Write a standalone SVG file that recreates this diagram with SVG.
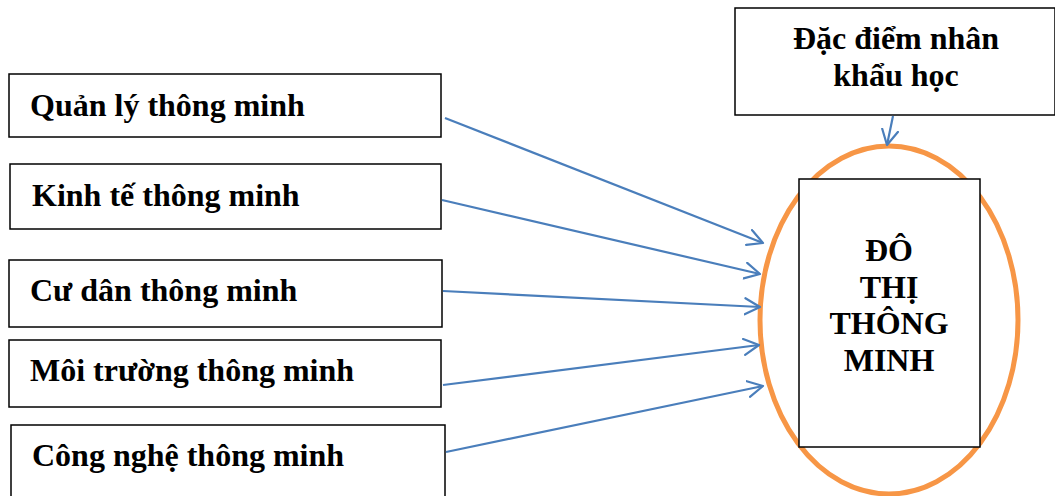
<svg xmlns="http://www.w3.org/2000/svg" width="1055" height="496" viewBox="0 0 1055 496">
<style>
.box{fill:#fff;stroke:#000;stroke-width:1.5}
.t{font-family:"Liberation Serif","Times New Roman",serif;font-weight:bold;font-size:32px;fill:#000}
.c{text-anchor:middle}
.conn{stroke:#4A7EBB;stroke-width:2.2;fill:none;marker-end:url(#ah)}
</style>
<defs>
<marker id="ah" markerUnits="userSpaceOnUse" markerWidth="24" markerHeight="24" refX="16" refY="9" orient="auto">
<path d="M1,1 L16,9 L1,17" fill="none" stroke="#4A7EBB" stroke-width="2.2" stroke-linecap="round" stroke-linejoin="round"/>
</marker>
</defs>
<rect width="1055" height="496" fill="#fff"/>
<g id="node-demo">
<rect class="box" x="735" y="8" width="320" height="107"/>
<text class="t c" x="896" y="49">Đặc điểm nhân</text>
<text class="t c" x="896" y="86">khẩu học</text>
</g>
<g id="node-city">
<ellipse cx="889" cy="320" rx="129" ry="174" fill="none" stroke="#F79646" stroke-width="5"/>
<rect class="box" x="799" y="179" width="181" height="268"/>
<text class="t c" x="889" y="261">ĐÔ</text>
<text class="t c" x="889" y="298">THỊ</text>
<text class="t c" x="889" y="334">THÔNG</text>
<text class="t c" x="889" y="371">MINH</text>
</g>
<g id="node-quanly">
<rect class="box" x="9" y="74" width="432" height="63"/>
<text class="t" x="30" y="116">Quản lý thông minh</text>
</g>
<g id="node-kinhte">
<rect class="box" x="10" y="164" width="431" height="65"/>
<text class="t" x="32" y="206">Kinh tế thông minh</text>
</g>
<g id="node-cudan">
<rect class="box" x="9" y="260" width="433" height="67"/>
<text class="t" x="30" y="301">Cư dân thông minh</text>
</g>
<g id="node-moitruong">
<rect class="box" x="9" y="340" width="432" height="67"/>
<text class="t" x="30" y="381">Môi trường thông minh</text>
</g>
<g id="node-congnghe">
<rect class="box" x="11" y="425" width="434" height="80"/>
<text class="t" x="32" y="466">Công nghệ thông minh</text>
</g>
<g id="connectors">
<line class="conn" x1="893" y1="116" x2="887" y2="145"/>
<line class="conn" x1="445" y1="118" x2="763" y2="243"/>
<line class="conn" x1="442" y1="200" x2="760" y2="274"/>
<line class="conn" x1="443" y1="291" x2="760" y2="307"/>
<line class="conn" x1="443" y1="385" x2="759" y2="345"/>
<line class="conn" x1="446" y1="452" x2="763" y2="386"/>
</g>
</svg>
